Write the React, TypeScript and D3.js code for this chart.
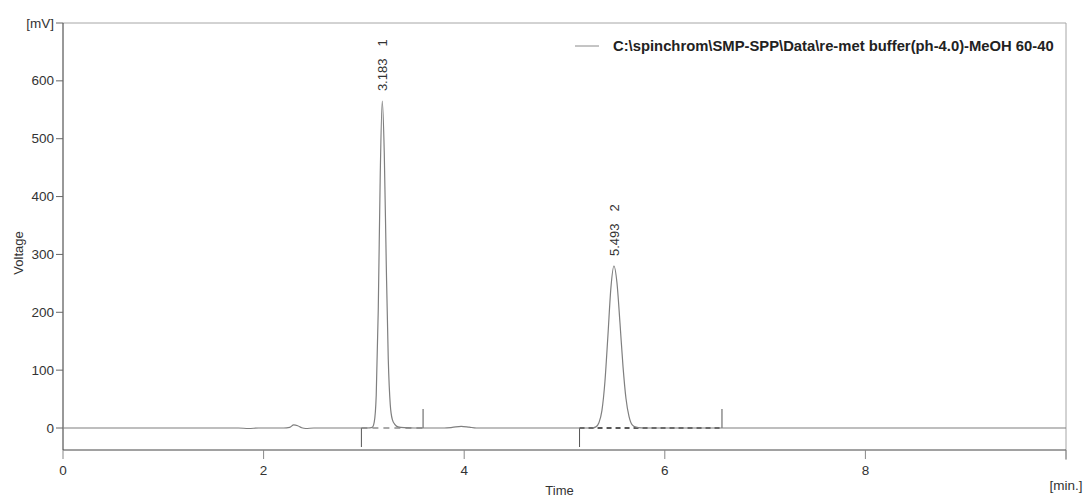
import React, { useEffect, useRef } from 'react';
import * as d3 from 'd3';

// chromatogram trace (time in min, signal in mV)
const traceTime = [
  0, 1.0, 1.75, 1.85, 1.95, 2.2, 2.26, 2.3, 2.34, 2.38, 2.42, 2.5, 3.0, 3.06,
  3.083, 3.103, 3.123, 3.143, 3.163, 3.183, 3.203, 3.223, 3.243, 3.263, 3.283,
  3.31, 3.34, 3.4, 3.5, 3.8, 3.88, 3.97, 4.05, 4.12, 5.2,
  5.273, 5.313, 5.343, 5.373, 5.403, 5.433, 5.463, 5.493, 5.523, 5.553, 5.583,
  5.613, 5.643, 5.673, 5.713, 5.763, 5.85, 10
];
const traceVoltage = [
  0, 0, 0, -0.8, 0, 0, 1, 5.5, 4, 0.5, -0.8, 0, 0, 0.3,
  1, 10, 57, 203, 438, 565, 476, 283, 119, 40, 15,
  6, 2, 0.5, 0, 0, 1, 3, 1.5, 0, 0,
  0, 2, 9, 30, 80, 160, 243, 280, 251, 182, 107,
  51, 20, 6, 1.5, 0.3, 0, 0
];

const peakTimes = [3.183, 5.493];
const peakHeights = [565, 280];
const peakNumbers = ['1', '2'];
const peakStarts = [2.975, 5.15];
const peakEnds = [3.59, 6.57];

const yTicks = [0, 100, 200, 300, 400, 500, 600];
const xTicks = [0, 2, 4, 6, 8];
const legendLabel = 'C:\\spinchrom\\SMP-SPP\\Data\\re-met buffer(ph-4.0)-MeOH 60-40';

const width = 1086;
const height = 497;
const margin = { top: 23, right: 20, bottom: 47, left: 63 };
const font = '"Liberation Sans", Arial, sans-serif';

function Chromatogram() {
  const ref = useRef<SVGSVGElement>(null);

  useEffect(() => {
    const svg = d3.select(ref.current);
    svg.selectAll('*').remove();

    const x = d3.scaleLinear().domain([0, 10]).range([margin.left, width - margin.right]);
    const y = d3.scaleLinear().domain([-38, 700]).range([height - margin.bottom, margin.top]);
    const bottom = height - margin.bottom;

    // frame
    svg.append('line')
      .attr('x1', x(0)).attr('x2', x(10)).attr('y1', y(700)).attr('y2', y(700))
      .attr('stroke', '#a6a6a6');
    svg.append('line')
      .attr('x1', x(10)).attr('x2', x(10)).attr('y1', y(700)).attr('y2', bottom + 10)
      .attr('stroke', '#a6a6a6');
    svg.append('line')
      .attr('x1', x(0)).attr('x2', x(0)).attr('y1', y(700)).attr('y2', bottom)
      .attr('stroke', '#333');
    svg.append('line')
      .attr('x1', x(0)).attr('x2', x(10)).attr('y1', bottom).attr('y2', bottom)
      .attr('stroke', '#444');

    // y ticks
    const yAll = [...yTicks, 700];
    svg.selectAll('.ytick').data(yAll).enter().append('line')
      .attr('x1', x(0) - 7).attr('x2', x(0))
      .attr('y1', d => y(d)).attr('y2', d => y(d))
      .attr('stroke', '#666');
    svg.selectAll('.ylab').data(yAll).enter().append('text')
      .attr('x', x(0) - 9).attr('y', d => y(d))
      .attr('text-anchor', 'end').attr('dominant-baseline', 'central')
      .style('font-family', font).style('font-size', '13.5px').style('fill', '#333')
      .text(d => (d === 700 ? '[mV]' : String(d)));

    // x ticks
    const xAll = [...xTicks, 10];
    svg.selectAll('.xtick').data(xAll).enter().append('line')
      .attr('x1', d => x(d)).attr('x2', d => x(d))
      .attr('y1', bottom).attr('y2', bottom + 9)
      .attr('stroke', '#888');
    svg.selectAll('.xlab').data(xAll).enter().append('text')
      .attr('x', d => x(d)).attr('y', d => (d === 10 ? bottom + 35 : bottom + 20))
      .attr('text-anchor', 'middle').attr('dominant-baseline', 'central')
      .style('font-family', font).style('font-size', '13.5px').style('fill', '#333')
      .text(d => (d === 10 ? '[min.]' : String(d)));

    // axis titles
    svg.append('text')
      .attr('transform', `translate(23, 253) rotate(-90)`)
      .attr('text-anchor', 'middle')
      .style('font-family', font).style('font-size', '13px').style('fill', '#333')
      .text('Voltage');
    svg.append('text')
      .attr('x', (x(0) + x(10)) / 2 - 5).attr('y', 495)
      .attr('text-anchor', 'middle')
      .style('font-family', font).style('font-size', '13px').style('fill', '#333')
      .text('Time');

    // integration baselines and markers
    peakStarts.forEach((s, i) => {
      const e = peakEnds[i];
      svg.append('line')
        .attr('x1', x(s)).attr('x2', x(e)).attr('y1', y(0)).attr('y2', y(0))
        .attr('stroke', i === 0 ? '#555' : '#222')
        .attr('stroke-width', i === 0 ? 1.2 : 1.5)
        .attr('stroke-dasharray', i === 0 ? '6,5' : '5,4');
      svg.append('line')
        .attr('x1', x(s)).attr('x2', x(s)).attr('y1', y(0)).attr('y2', y(0) + 19)
        .attr('stroke', '#555');
      svg.append('line')
        .attr('x1', x(e)).attr('x2', x(e)).attr('y1', y(0)).attr('y2', y(0) - 19)
        .attr('stroke', '#555');
    });

    // trace
    const line = d3.line<number>()
      .x((_, i) => x(traceTime[i]))
      .y(d => y(d))
      .curve(d3.curveMonotoneX);
    svg.append('path')
      .datum(traceVoltage)
      .attr('d', line)
      .attr('fill', 'none')
      .attr('stroke', '#7f7f7f')
      .attr('stroke-width', 1.2);

    // peak labels
    peakTimes.forEach((t, i) => {
      const txt = svg.append('text')
        .attr('transform', `translate(${x(t) + 5}, ${y(peakHeights[i]) - 10}) rotate(-90)`)
        .style('font-family', font).style('font-size', '13px').style('fill', '#333');
      txt.append('tspan').text(t.toFixed(3));
      txt.append('tspan').attr('dx', 12).text(peakNumbers[i]);
    });

    // legend
    svg.append('line')
      .attr('x1', 575).attr('x2', 599).attr('y1', 46).attr('y2', 46)
      .attr('stroke', '#8a8a8a');
    svg.append('text')
      .attr('x', 613).attr('y', 46).attr('dominant-baseline', 'central')
      .style('font-family', font).style('font-size', '14.8px').style('font-weight', 'bold')
      .style('fill', '#222')
      .text(legendLabel);
  }, []);

  return (
    <svg
      ref={ref}
      width={width}
      height={height}
      style={{ position: 'absolute', left: 0, top: 0, background: '#fff' }}
    />
  );
}

export default function App() {
  return <Chromatogram />;
}
